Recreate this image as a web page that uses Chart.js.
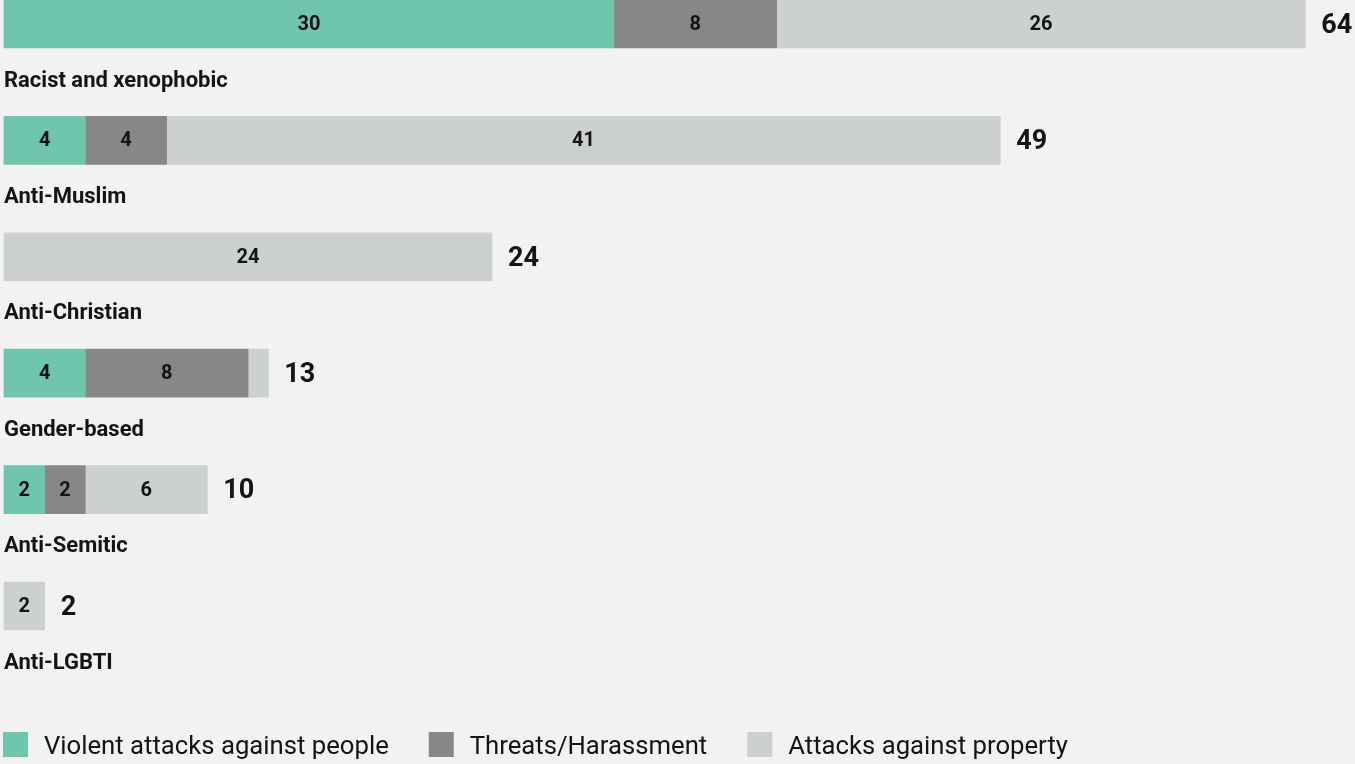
<!DOCTYPE html>
<html>
<head>
<meta charset="utf-8">
<script src="https://cdn.jsdelivr.net/npm/chart.js@4.4.1/dist/chart.umd.min.js"></script>
<style>
    html, body { margin: 0; padding: 0; background: #f2f2f2; }
    #wrap { width: 1355px; height: 764px; position: relative; }
</style>
</head>
<body>
<div id="wrap"><canvas id="crimeChart"></canvas></div>
<script>
const categories = ['Racist and xenophobic', 'Anti-Muslim', 'Anti-Christian', 'Gender-based', 'Anti-Semitic', 'Anti-LGBTI'];
const violentAttacks = [30, 4, 0, 4, 2, 0];
const threatsHarassment = [8, 4, 0, 8, 2, 0];
const propertyAttacks = [26, 41, 24, 1, 6, 2];
const seriesNames = ['Violent attacks against people', 'Threats/Harassment', 'Attacks against property'];
const seriesColors = ['#6fc5ad', '#878787', '#ccd0ce'];

const totals = categories.map((c, i) => violentAttacks[i] + threatsHarassment[i] + propertyAttacks[i]);

const FONT = 'Roboto, "Open Sans", sans-serif';
const TEXT = '#141414';

// labels inside segments, totals, category names and the legend
const annotate = {
    id: 'annotate',
    afterDatasetsDraw(chart) {
        const c = chart.ctx;
        const xs = chart.scales.x;
        const ys = chart.scales.y;
        c.save();
        c.fillStyle = TEXT;
        c.textBaseline = 'middle';

        // values in segments
        c.textAlign = 'center';
        c.font = 'bold 20px ' + FONT;
        chart.data.datasets.forEach((ds, di) => {
            chart.getDatasetMeta(di).data.forEach((el, i) => {
                const v = ds.data[i];
                if (v < 2) return;
                c.fillText(String(v), (el.x + el.base) / 2, el.y + 1);
            });
        });

        // totals
        c.textAlign = 'left';
        c.font = 'bold 27px ' + FONT;
        totals.forEach((t, i) => {
            c.fillText(String(t), xs.getPixelForValue(t) + 16, ys.getPixelForValue(i) + 2);
        });

        // category names under each bar
        c.font = 'bold 22px ' + FONT;
        categories.forEach((name, i) => {
            c.fillText(name, 4, ys.getPixelForValue(i) + 57);
        });

        // legend
        c.font = '25.7px ' + FONT;
        let x = 3;
        const top = 732;
        seriesNames.forEach((name, i) => {
            c.fillStyle = seriesColors[i];
            c.fillRect(x, top, 25, 25);
            x += 25 + 16;
            c.fillStyle = TEXT;
            c.fillText(name, x, top + 16);
            x += c.measureText(name).width + 40;
        });
        c.restore();
    }
};

const ctx = document.getElementById('crimeChart').getContext('2d');

const crimeChart = new Chart(ctx, {
    type: 'bar',
    data: {
        labels: categories,
        datasets: [
            { label: seriesNames[0], data: violentAttacks },
            { label: seriesNames[1], data: threatsHarassment },
            { label: seriesNames[2], data: propertyAttacks }
        ].map((d, i) => Object.assign(d, {
            // hide empty segments so no sliver is left at the base
            backgroundColor: (c) => c.raw === 0 ? 'rgba(0,0,0,0)' : seriesColors[i],
            barThickness: 48,
            borderWidth: 0,
            clip: false
        }))
    },
    options: {
        indexAxis: 'y',
        responsive: true,
        maintainAspectRatio: false,
        animation: false,
        layout: {
            padding: { left: 4, right: 9, top: 24, bottom: 158 }
        },
        scales: {
            x: { stacked: true, min: 0, max: 66, display: false },
            y: { stacked: true, offset: false, display: false }
        },
        plugins: {
            legend: { display: false },
            tooltip: { enabled: false }
        }
    },
    plugins: [annotate]
});
</script>
</body>
</html>
